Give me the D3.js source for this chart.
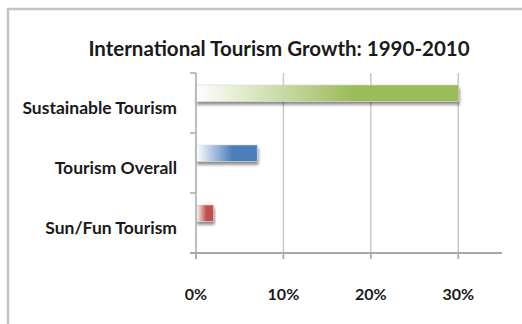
<!DOCTYPE html>
<html>
<head>
<meta charset="utf-8">
<script src="https://cdn.jsdelivr.net/npm/d3@7"></script>
<style>
  body { margin: 0; background: #fff; }
  svg { display: block; font-family: Lato, "Open Sans", sans-serif; }
</style>
</head>
<body>
<script>
var categories = ["Sustainable Tourism", "Tourism Overall", "Sun/Fun Tourism"];
var growth = [30, 7, 2];
var tickValues = [0, 10, 20, 30];
var tickLabels = ["0%", "10%", "20%", "30%"];
var barColors = ["#9bbb59", "#4a7ebb", "#c0504d"];

var w = 522, h = 324;
var plotLeft = 196, plotRight = 502, plotTop = 73, plotBottom = 253;

var svg = d3.select("body").append("svg")
    .attr("width", w)
    .attr("height", h);

var defs = svg.append("defs");

// drop shadow under the bars
var shadow = defs.append("filter")
    .attr("id", "shadow")
    .attr("x", "-5%").attr("y", "-30%")
    .attr("width", "115%").attr("height", "180%");
shadow.append("feGaussianBlur").attr("in", "SourceAlpha").attr("stdDeviation", 1.5);
shadow.append("feOffset").attr("dx", 1).attr("dy", 3).attr("result", "off");
shadow.append("feComponentTransfer").append("feFuncA").attr("type", "linear").attr("slope", 0.45);
var merge = shadow.append("feMerge");
merge.append("feMergeNode");
merge.append("feMergeNode").attr("in", "SourceGraphic");

barColors.forEach(function (c, i) {
    var g = defs.append("linearGradient")
        .attr("id", "grad" + i)
        .attr("x1", "0%").attr("x2", "100%")
        .attr("y1", "0%").attr("y2", "0%");
    g.append("stop").attr("offset", "0%").attr("stop-color", "#ffffff");
    g.append("stop").attr("offset", "60%").attr("stop-color", c);
    g.append("stop").attr("offset", "100%").attr("stop-color", c);
});

// chart frame (cropped on right and bottom)
svg.append("path")
    .attr("d", "M8,324 L8,9 L522,9")
    .attr("fill", "none")
    .attr("stroke", "#c4c4c4")
    .attr("stroke-width", 2.5);

svg.append("text")
    .attr("x", 279)
    .attr("y", 56)
    .attr("text-anchor", "middle")
    .attr("font-size", 20.5)
    .attr("font-weight", "bold")
    .attr("fill", "#1a1a1a")
    .text("International Tourism Growth: 1990-2010");

var x = d3.scaleLinear().domain([0, 35]).range([plotLeft, plotRight]);
var y = d3.scaleBand().domain(categories).range([plotTop, plotBottom]);

// gridlines
svg.selectAll(".grid")
    .data(tickValues.slice(1))
    .enter()
    .append("line")
    .attr("x1", function (d) { return x(d); })
    .attr("x2", function (d) { return x(d); })
    .attr("y1", plotTop)
    .attr("y2", plotBottom + 6)
    .attr("stroke", "#c8c8c8")
    .attr("stroke-width", 1.5);

// bars
svg.selectAll(".bar")
    .data(growth)
    .enter()
    .append("rect")
    .attr("x", x(0))
    .attr("y", function (d, i) { return y(categories[i]) + 12; })
    .attr("width", function (d) { return x(d) - x(0); })
    .attr("height", 16.5)
    .attr("fill", function (d, i) { return "url(#grad" + i + ")"; })
    .attr("stroke", "#d6d6d6")
    .attr("stroke-width", 0.6)
    .attr("filter", "url(#shadow)");

// y axis
var yAxis = svg.append("g");
yAxis.append("line")
    .attr("x1", plotLeft).attr("x2", plotLeft)
    .attr("y1", plotTop).attr("y2", plotBottom + 6)
    .attr("stroke", "#a8a8a8").attr("stroke-width", 1.5);
yAxis.selectAll(".ytick")
    .data(categories.concat([null]))
    .enter()
    .append("line")
    .attr("x1", plotLeft - 6).attr("x2", plotLeft)
    .attr("y1", function (d) { return d ? y(d) : plotBottom; })
    .attr("y2", function (d) { return d ? y(d) : plotBottom; })
    .attr("stroke", "#a8a8a8").attr("stroke-width", 1.5);
yAxis.selectAll(".ylabel")
    .data(categories)
    .enter()
    .append("text")
    .attr("x", 177)
    .attr("y", function (d) { return y(d) + y.bandwidth() / 2 + 10.5; })
    .attr("text-anchor", "end")
    .attr("font-size", 17.5)
    .attr("font-weight", "bold")
    .attr("fill", "#1a1a1a")
    .text(function (d) { return d; });

// x axis
var xAxis = svg.append("g");
xAxis.append("line")
    .attr("x1", plotLeft - 6).attr("x2", plotRight)
    .attr("y1", plotBottom).attr("y2", plotBottom)
    .attr("stroke", "#a8a8a8").attr("stroke-width", 2);
xAxis.selectAll(".xtick")
    .data(tickValues)
    .enter()
    .append("line")
    .attr("x1", function (d) { return x(d); })
    .attr("x2", function (d) { return x(d); })
    .attr("y1", plotBottom).attr("y2", plotBottom + 6)
    .attr("stroke", "#a8a8a8").attr("stroke-width", 1.5);
xAxis.selectAll(".xlabel")
    .data(tickValues)
    .enter()
    .append("text")
    .attr("x", function (d) { return x(d); })
    .attr("y", 300)
    .attr("text-anchor", "middle")
    .attr("font-size", 16)
    .attr("font-weight", "bold")
    .attr("fill", "#1a1a1a")
    .text(function (d, i) { return tickLabels[i]; });
</script>
</body>
</html>
